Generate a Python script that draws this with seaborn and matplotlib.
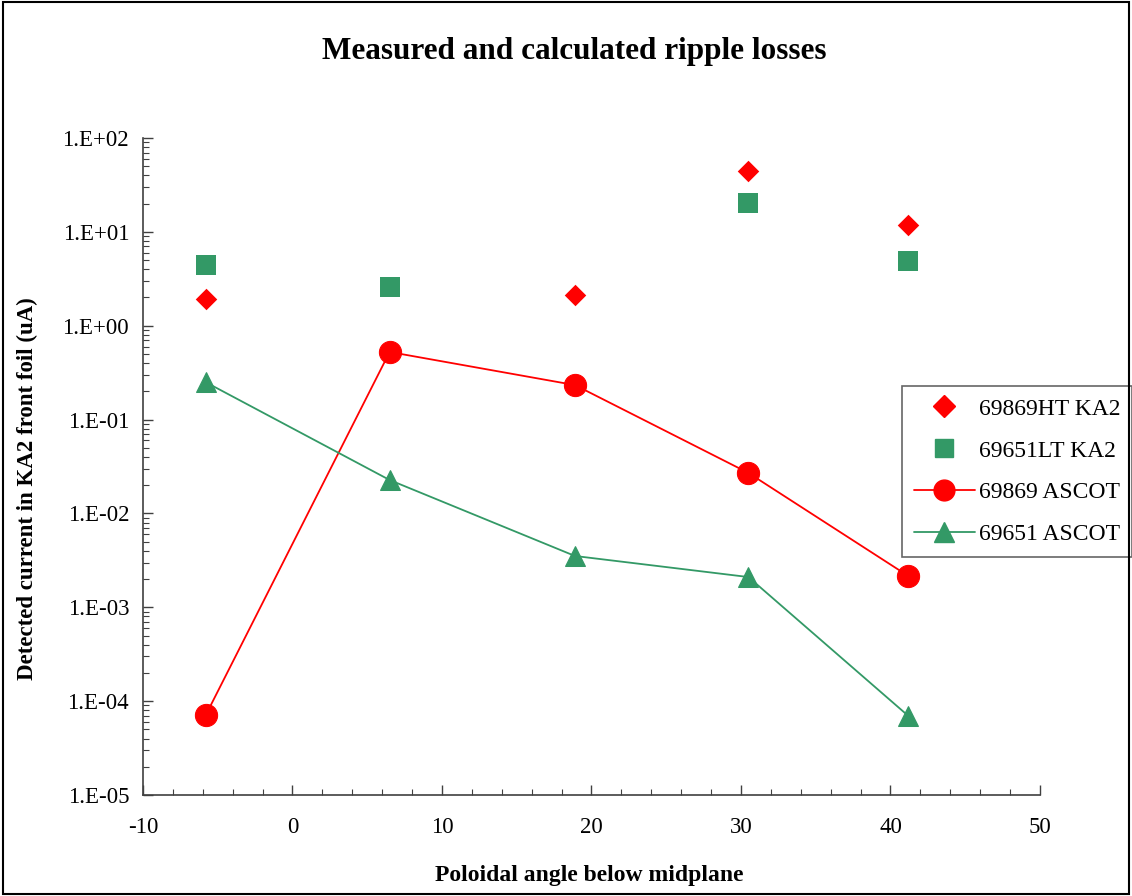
import numpy as np
import pandas as pd
import matplotlib
matplotlib.use("Agg")
import matplotlib.pyplot as plt
import seaborn as sns
from matplotlib.ticker import FuncFormatter, LogLocator, MultipleLocator, NullFormatter
from matplotlib.lines import Line2D
from matplotlib.patches import Rectangle

# Poloidal angles (deg below midplane)
angle_ht = [-5.8, 18.9, 30.5, 41.2]
ht_ka2 = [1.93, 2.12, 44.5, 11.8]

angle_lt = [-5.8, 6.5, 30.5, 41.2]
lt_ka2 = [4.43, 2.59, 20.3, 4.9]

angle_ascot = [-5.8, 6.5, 18.9, 30.5, 41.2]
ascot_69869 = [7.1e-5, 0.525, 0.233, 0.027, 0.00215]
ascot_69651 = [0.25, 0.0227, 0.00352, 0.0021, 6.95e-5]

labels = ["69869HT KA2", "69651LT KA2", "69869 ASCOT", "69651 ASCOT"]

RED = "#FF0000"
GREEN = "#339966"

sns.set_theme(style="white")
plt.rcParams["font.family"] = ["Liberation Serif", "DejaVu Serif"]
plt.rcParams["axes.unicode_minus"] = False
for key in ["text.color", "axes.labelcolor", "xtick.color", "ytick.color"]:
    plt.rcParams[key] = "black"

fig = plt.figure(figsize=(11.32, 8.96), dpi=100)
ax = fig.add_axes([0.1263, 0.1127, 0.9187 - 0.1263, 0.846 - 0.1127])

df_ht = pd.DataFrame({"angle": angle_ht, "current": ht_ka2})
df_lt = pd.DataFrame({"angle": angle_lt, "current": lt_ka2})
df_as = pd.DataFrame({"angle": angle_ascot, "c69869": ascot_69869, "c69651": ascot_69651})

sns.lineplot(data=df_as, x="angle", y="c69869", ax=ax, color=RED, lw=1.3,
             marker="o", markersize=16, markeredgecolor=RED, sort=False, zorder=3)
sns.lineplot(data=df_as, x="angle", y="c69651", ax=ax, color=GREEN, lw=1.3,
             marker="^", markersize=15, markeredgecolor=GREEN, sort=False, zorder=3)
sns.scatterplot(data=df_ht, x="angle", y="current", ax=ax, color=RED, marker="D",
                s=120, edgecolor=RED, linewidth=0, zorder=4)
sns.scatterplot(data=df_lt, x="angle", y="current", ax=ax, color=GREEN, marker="s",
                s=210, edgecolor=GREEN, linewidth=0, zorder=4)

ax.set_yscale("log")
ax.set_xlim(-10, 50)
ax.set_ylim(1e-5, 1e2)

ax.xaxis.set_major_locator(MultipleLocator(10))
ax.xaxis.set_minor_locator(MultipleLocator(2))
ax.yaxis.set_major_locator(LogLocator(base=10, numticks=20))
ax.yaxis.set_minor_locator(LogLocator(base=10, subs=np.arange(2, 10), numticks=20))
ax.yaxis.set_minor_formatter(NullFormatter())
ax.yaxis.set_major_formatter(FuncFormatter(lambda v, p: "1.E{:+03d}".format(int(round(np.log10(v))))))

ax.tick_params(axis="both", which="both", bottom=True, left=True, top=False, right=False)
ax.tick_params(axis="both", which="major", direction="in", length=7, width=1, colors="#404040",
               labelcolor="black", labelsize=16.5)
ax.tick_params(axis="both", which="minor", direction="in", length=4, width=0.8, colors="#404040")
ax.tick_params(axis="x", which="major", pad=16)
ax.tick_params(axis="y", which="major", pad=10)

for side in ["top", "right"]:
    ax.spines[side].set_visible(False)
for side in ["left", "bottom"]:
    ax.spines[side].set_color("#404040")
    ax.spines[side].set_linewidth(1.2)

ax.set_xlabel("Poloidal angle below midplane", fontsize=17, fontweight="bold", color="black")
ax.xaxis.set_label_coords(0.497, -0.107)
ax.set_ylabel("Detected current in KA2 front foil (uA)", fontsize=16.5, fontweight="bold",
              color="black")
ax.yaxis.set_label_coords(-0.117, 0.467)
fig.text(0.507, 0.942, "Measured and calculated ripple losses", fontsize=22.5,
         fontweight="bold", color="black", ha="center", va="center")

handles = [
    Line2D([], [], ls="none", marker="D", color=RED, markersize=11),
    Line2D([], [], ls="none", marker="s", color=GREEN, markersize=13),
    Line2D([], [], ls="-", marker="o", color=RED, markersize=15, lw=1.3),
    Line2D([], [], ls="-", marker="^", color=GREEN, markersize=14, lw=1.3),
]
leg = ax.legend(handles, labels, loc="upper left", bbox_to_anchor=(0.846, 0.622),
                fontsize=17, frameon=True, fancybox=False, edgecolor="#404040",
                handlelength=2.6, borderpad=0.5, labelspacing=0.86, handletextpad=0.15,
                borderaxespad=0)
leg.get_frame().set_linewidth(1.2)
for t in leg.get_texts():
    t.set_color("black")

# Frame around the whole chart area
fig.patches.append(Rectangle((0.003, 0.002), 0.994, 0.996, transform=fig.transFigure,
                             fill=False, edgecolor="black", lw=1.5))

fig.savefig("out.png", dpi=100)
